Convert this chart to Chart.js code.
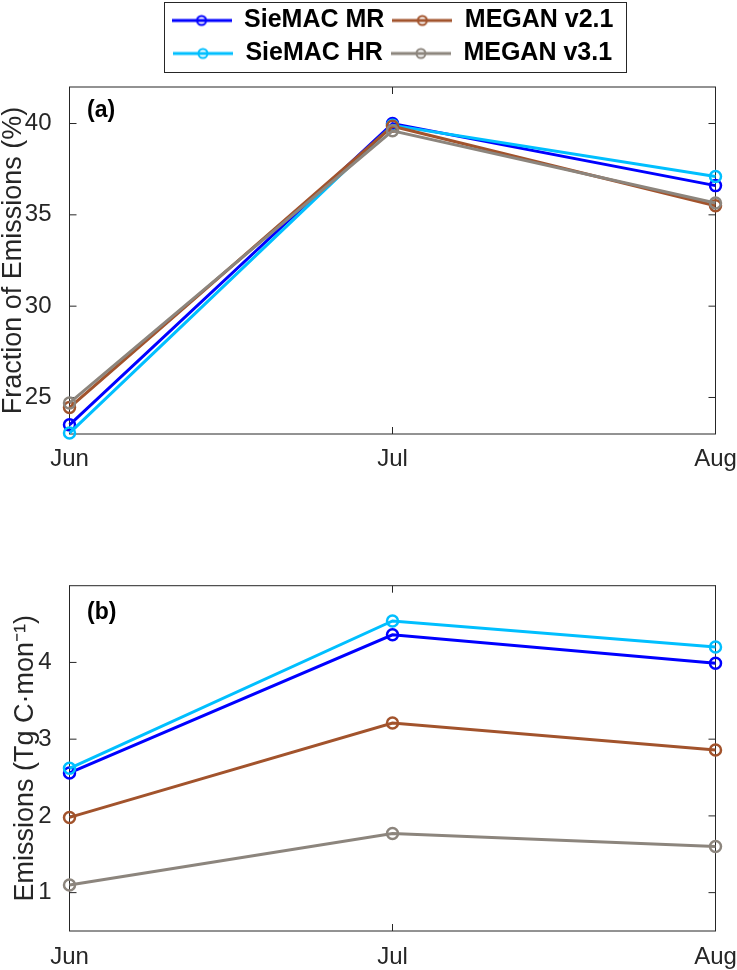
<!DOCTYPE html>
<html>
<head>
<meta charset="utf-8">
<script src="https://cdn.jsdelivr.net/npm/chart.js@4.4.1/dist/chart.umd.min.js"></script>
<style>
  html, body { margin: 0; padding: 0; background: #fff; }
  .panel { position: absolute; left: 0; width: 737px; }
  #wrapA { top: 0; height: 480px; }
  #wrapB { top: 480px; height: 490px; }
</style>
</head>
<body>
<div class="panel" id="wrapA"><canvas id="chartA"></canvas></div>
<div class="panel" id="wrapB"><canvas id="chartB"></canvas></div>
<script>
// Monthly share and totals of emissions, Jun-Aug

const months = ["Jun", "Jul", "Aug"];
const seriesNames = ["SieMAC MR", "SieMAC HR", "MEGAN v2.1", "MEGAN v3.1"];
const seriesColors = ["#0000ff", "#00bfff", "#a2532c", "#8c857d"];

// panel (a): fraction of emissions (%)
const fracMR = [23.5, 40.0, 36.6];
const fracHR = [23.05, 39.9, 37.1];
const fracV21 = [24.45, 39.85, 35.5];
const fracV31 = [24.7, 39.6, 35.65];
const fracTicks = [25, 30, 35, 40];

// panel (b): emissions (Tg C per month)
const emisMR = [2.56, 4.36, 3.99];
const emisHR = [2.62, 4.54, 4.2];
const emisV21 = [1.98, 3.21, 2.86];
const emisV31 = [1.1, 1.77, 1.6];
const emisTicks = [1, 2, 3, 4];

const FONT = "'Liberation Sans', Arial, Helvetica, sans-serif";
const AXIS_COLOR = "#262626";

// legend symbol: short line with an open circle in the middle
function legendSymbol(color) {
  const c = document.createElement("canvas");
  c.width = 60;
  c.height = 14;
  const g = c.getContext("2d");
  g.strokeStyle = color;
  g.lineWidth = 3;
  g.beginPath();
  g.moveTo(0, 7);
  g.lineTo(60, 7);
  g.stroke();
  g.lineWidth = 2;
  g.beginPath();
  g.arc(30, 7, 4.5, 0, Math.PI * 2);
  g.stroke();
  return c;
}
const legendSymbols = seriesColors.map(legendSymbol);
// MATLAB fills the two legend columns top-down
const legendRank = [0, 2, 1, 3];

// box round the axes with inward ticks, plus the panel letter
const framePlugin = {
  id: "frame",
  beforeDatasetsDraw(chart) {
    const { ctx, chartArea: a, scales } = chart;
    const len = 7;
    ctx.save();
    ctx.strokeStyle = AXIS_COLOR;
    ctx.lineWidth = 1;
    ctx.strokeRect(a.left, a.top, a.right - a.left, a.bottom - a.top);
    ctx.beginPath();
    scales.x.ticks.forEach((t, i) => {
      const px = scales.x.getPixelForTick(i);
      ctx.moveTo(px, a.bottom);
      ctx.lineTo(px, a.bottom - len);
      ctx.moveTo(px, a.top);
      ctx.lineTo(px, a.top + len);
    });
    scales.y.ticks.forEach((t, i) => {
      const py = scales.y.getPixelForTick(i);
      ctx.moveTo(a.left, py);
      ctx.lineTo(a.left + len, py);
      ctx.moveTo(a.right, py);
      ctx.lineTo(a.right - len, py);
    });
    ctx.stroke();
    ctx.restore();
  },
  afterDraw(chart, args, opts) {
    const { ctx, chartArea: a } = chart;
    ctx.save();
    ctx.fillStyle = "#000";
    ctx.font = "bold 23px " + FONT;
    ctx.textBaseline = "middle";
    ctx.fillText(opts.label, a.left + 17.5, a.top + opts.dy);
    ctx.restore();
  },
};

// fixed legend height and a border round the legend items
const legendBoxPlugin = {
  id: "legendBox",
  beforeLayout(chart, args, opts) {
    const lg = chart.legend;
    if (lg && !lg._fixedFit) {
      const fit = lg.fit;
      lg.fit = function () {
        fit.call(this);
        this.height = opts.height;
      };
      lg._fixedFit = true;
    }
  },
  afterDraw(chart) {
    const boxes = chart.legend.legendHitBoxes;
    if (!boxes || !boxes.length) return;
    const left = Math.min(...boxes.map((b) => b.left)) - 8;
    const right = Math.max(...boxes.map((b) => b.left + b.width)) + 12;
    const top = Math.min(...boxes.map((b) => b.top)) - 6;
    const bottom = Math.max(...boxes.map((b) => b.top + b.height)) + 6;
    const ctx = chart.ctx;
    ctx.save();
    ctx.strokeStyle = AXIS_COLOR;
    ctx.lineWidth = 1;
    ctx.strokeRect(Math.round(left) + 0.5, Math.round(top) + 0.5, Math.round(right - left), Math.round(bottom - top));
    ctx.restore();
  },
};

function makeDatasets(values) {
  return values.map((data, i) => ({
    label: seriesNames[i],
    data: data,
    borderColor: seriesColors[i],
    backgroundColor: "rgba(0,0,0,0)",
    borderWidth: 3,
    pointRadius: 5.5,
    pointHoverRadius: 5.5,
    pointBorderWidth: 2.5,
    pointBackgroundColor: "rgba(0,0,0,0)",
    pointBorderColor: seriesColors[i],
    tension: 0,
    clip: false,
    order: 3 - i,
  }));
}

function makePanel(canvasId, values, cfg) {
  const ctx = document.getElementById(canvasId);
  return new Chart(ctx, {
    type: "line",
    data: {
      labels: months,
      datasets: makeDatasets(values),
    },
    options: {
      responsive: true,
      maintainAspectRatio: false,
      animation: false,
      layout: {
        padding: { top: cfg.padTop, right: 21.5, bottom: 0, left: 0 },
      },
      plugins: {
        legend: {
          display: cfg.legend,
          position: "top",
          fullSize: false,
          labels: {
            usePointStyle: true,
            pointStyleWidth: 60,
            padding: 8,
            color: "#000",
            font: { family: FONT, size: 25, weight: "bold" },
            generateLabels(chart) {
              const items = Chart.defaults.plugins.legend.labels.generateLabels(chart);
              items.forEach((it) => {
                it.pointStyle = legendSymbols[it.datasetIndex];
              });
              return items;
            },
            sort: (a, b) => legendRank[a.datasetIndex] - legendRank[b.datasetIndex],
          },
        },
        legendBox: { height: 87 },
        frame: { label: cfg.panelLabel, dy: cfg.labelDy },
        tooltip: { enabled: false },
      },
      scales: {
        x: {
          offset: false,
          grid: { display: false },
          border: { display: false },
          ticks: {
            color: AXIS_COLOR,
            padding: cfg.xPad,
            maxRotation: 0,
            font: { family: FONT, size: 24 },
          },
          afterFit(scale) {
            scale.height = cfg.xHeight;
            scale.paddingLeft = 0;
            scale.paddingRight = 0;
          },
        },
        y: {
          min: cfg.yMin,
          max: cfg.yMax,
          grid: { display: false },
          border: { display: false },
          ticks: {
            color: AXIS_COLOR,
            padding: 10,
            font: { family: FONT, size: 24 },
          },
          afterBuildTicks(scale) {
            scale.ticks = cfg.yTicks.map((v) => ({ value: v }));
          },
          afterFit(scale) {
            scale.width = 69.5;
          },
          title: {
            display: true,
            text: cfg.yTitle,
            color: AXIS_COLOR,
            font: { family: FONT, size: 27, lineHeight: 1 },
            padding: { top: cfg.titlePad, bottom: 0 },
          },
        },
      },
    },
    plugins: cfg.legend ? [framePlugin, legendBoxPlugin] : [framePlugin],
  });
}

makePanel("chartA", [fracMR, fracHR, fracV21, fracV31], {
  legend: true,
  padTop: 0,
  xHeight: 46,
  xPad: 3,
  yMin: 23,
  yMax: 42,
  yTicks: fracTicks,
  yTitle: "Fraction of Emissions (%)",
  titlePad: 0,
  panelLabel: "(a)",
  labelDy: 24,
});

makePanel("chartB", [emisMR, emisHR, emisV21, emisV31], {
  legend: false,
  padTop: 105.7,
  xHeight: 39,
  xPad: 4,
  yMin: 0.5,
  yMax: 5,
  yTicks: emisTicks,
  yTitle: "Emissions (Tg C\u00b7mon\u207b\u00b9)",
  titlePad: 12.5,
  panelLabel: "(b)",
  labelDy: 27,
});
</script>
</body>
</html>
